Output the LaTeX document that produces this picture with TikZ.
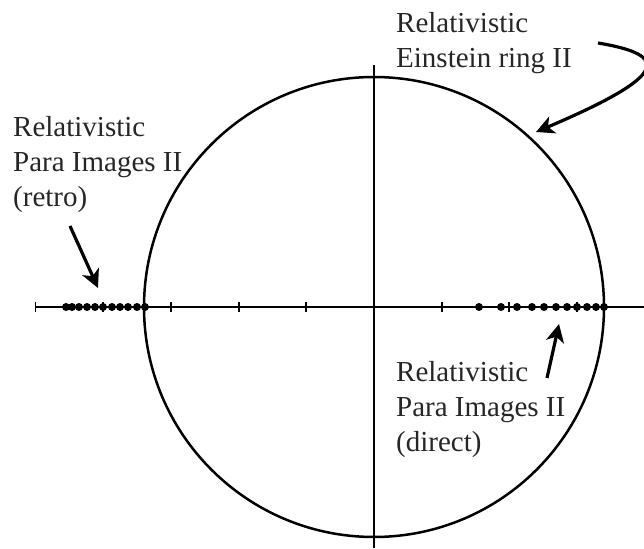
\documentclass[tikz,border=0pt]{standalone}
\usepackage{fontspec}
\setmainfont{Liberation Serif}
\usetikzlibrary{arrows.meta}
\begin{document}
\begin{tikzpicture}[x=1pt,y=-1pt,
  axisline/.style={line width=1.2pt,black},
  ringline/.style={line width=2.5pt,black},
  tickmark/.style={line width=1.2pt},
  imgdot/.style={circle,fill=black,inner sep=0pt,minimum size=8pt},
  pointer/.style={line width=3.2pt,-{Stealth[length=18pt,width=18pt,inset=5pt]}},
  lab/.style={font=\fontsize{29}{35}\selectfont,align=left,anchor=base west,inner sep=0pt,text=black!85}]
\useasboundingbox (0,0) rectangle (644,548);
\coordinate (O) at (374,307);
\coordinate (xl) at (35.5,307);
\coordinate (xr) at (644,307);
\coordinate (yt) at (374,65);
\coordinate (yb) at (374,548);
\draw[axisline] (xl) -- (xr);
\draw[axisline] (yt) -- (yb);
\foreach \t in {35.5,103,171,239,306,442,509,577}
  \draw[tickmark] (\t,302) -- (\t,312);
\draw[ringline] (O) circle[radius=230];
\foreach \p [count=\i] in {66,72,79,87,95,103,112,120,128,137,145}
  \node[imgdot] (l\i) at (\p,307) {};
\foreach \p [count=\i] in {479,501,517,532,544,556,567,577,587,596,604}
  \node[imgdot] (r\i) at (\p,307) {};
\node[lab] (ring) at (396,68) {Relativistic\\Einstein ring II};
\node[lab] (retro) at (13,206) {Relativistic\\Para Images II\\(retro)};
\node[lab] (direct) at (396,451) {Relativistic\\Para Images II\\(direct)};
\coordinate (ringtail) at (598,43);
\coordinate (ringtip) at (536,132);
\coordinate (retrotail) at (70,226);
\coordinate (retrotip) at (98,288);
\coordinate (directtail) at (547,378);
\coordinate (directtip) at (559,324);
\draw[pointer] (ringtail) .. controls (670,55) and (670,75) .. (ringtip);
\draw[pointer] (retrotail) -- (retrotip);
\draw[pointer] (directtail) -- (directtip);
\end{tikzpicture}
\end{document}
